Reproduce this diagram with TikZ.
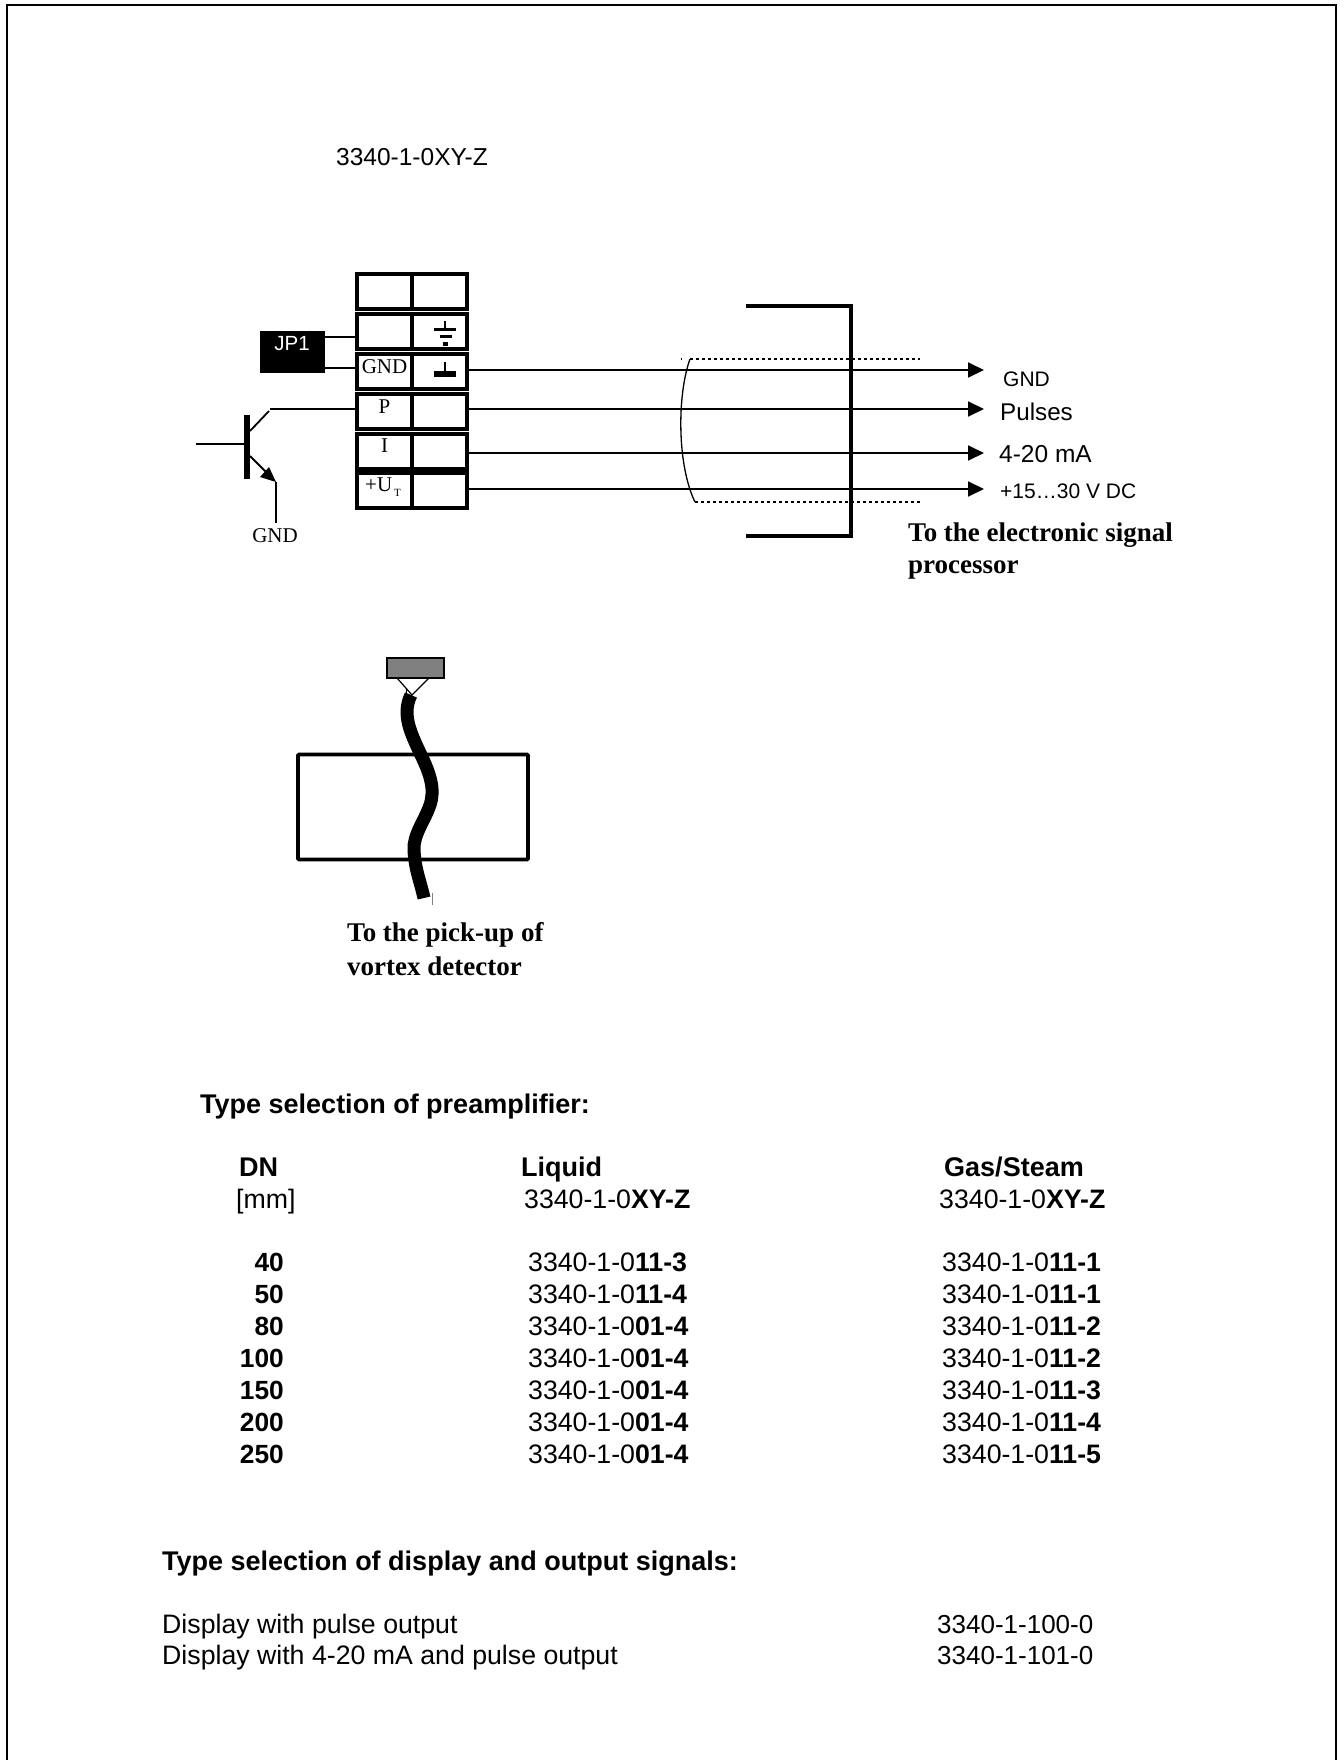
\documentclass[tikz,border=0pt]{standalone}
\usepackage{fontspec}
\setmainfont{Liberation Sans}
\newfontfamily\serifface{Liberation Serif}
\usetikzlibrary{arrows.meta}
\newcommand{\fs}[1]{\fontsize{#1}{#1}\selectfont}
\newcommand{\tb}[1]{\textbf{#1}}
\tikzset{
 x=1pt,y=-1pt,
 txt/.style={inner sep=0pt,anchor=west,text height=19.2pt,text depth=0pt,font=\fs{26.7}},
 head/.style={txt,font=\fs{27}\bfseries},
 num/.style={inner sep=0pt,anchor=east,text height=19.2pt,text depth=0pt,font=\fs{26.3}\bfseries},
 bold serif/.style={inner sep=0pt,anchor=west,font=\serifface\fs{27}\bfseries},
 cell/.style={draw,line width=4pt,inner sep=0pt,minimum width=55pt,minimum height=35pt},
 tlabel/.style={inner sep=0pt,font=\serifface\fs{21}},
 wire/.style={line width=1.8pt},
 signal/.style={wire,-{Triangle[length=16pt,width=15pt]}},
}
\begin{document}
\begin{tikzpicture}
\useasboundingbox (0,0) rectangle (1343,1760);
\draw[line width=2pt] (7,1760) -- (7,5) -- (1335.5,5) -- (1335.5,1760);
% title
\node[txt,font=\fs{24.5},text height=17.6pt] at (336,157) (title) {3340-1-0XY-Z};
% terminal block
\foreach \n/\y in {1/292,2/331.5,3/371.5,4/411,5/451,6/490.5}{
 \node[cell] (L\n) at (384.5,\y) {};
 \node[cell] (R\n) at (439.5,\y) {};
}
\node[tlabel] (tGND) at (384.5,367) {GND};
\node[tlabel] (tP) at (384.5,407) {P};
\node[tlabel] (tI) at (384.5,446) {I};
\node[tlabel] (tU) at (383,487) {+U\raisebox{-0.5ex}{\fs{11}\,T}};
% earth symbols
\draw[line width=2pt] (445,321) -- (445,330);
\draw[line width=3.4pt] (434,329.5) -- (456,329.5);
\draw[line width=3.4pt] (439.5,336.5) -- (451.5,336.5);
\draw[line width=3.8pt] (442.5,344) -- (447.5,344);
\draw[line width=2.4pt] (445,362) -- (445,372);
\draw[line width=5.5pt] (434,374) -- (456,374);
% JP1
\node[fill=black,inner sep=0pt,minimum width=65pt,minimum height=42pt] (jp) at (292.5,352) {};
\node[inner sep=0pt,text=white,font=\fs{20.5}] (jplabel) at (292,344) {JP1};
\draw[wire] (jp.east |- 0,337) -- (L2.west |- 0,337);
\draw[wire] (jp.east |- 0,368) -- (L3.west |- 0,368);
% transistor
\coordinate (base) at (196,444);
\coordinate (bar) at (247,447);
\coordinate (coll) at (270,409);
\coordinate (emit) at (276,482);
\coordinate (gndend) at (276,523);
\draw[line width=5.5pt] (247,415) -- (247,479);
\draw[wire] (base) -- (bar |- base);
\draw[wire] (250,431) -- (269,411);
\draw[wire] (coll) -- (L4.west |- coll);
\draw[wire] (250,456) -- (268,474);
\fill (emit) -- (260,477) -- (269,467) -- cycle;
\draw[wire] (emit) -- (gndend);
\node[tlabel] (gnd2) at (275,536) {GND};
% signals
\node[txt,font=\fs{21},text height=15pt] (sGND) at (1003,379) {GND};
\node[txt,font=\fs{24.2},text height=17.4pt] (sP) at (1000,412) {Pulses};
\node[txt,font=\fs{24.5},text height=17.6pt] (sI) at (999,454) {4-20 mA};
\node[txt,font=\fs{21},text height=15pt] (sU) at (1000,491) {+15…30 V DC};
\coordinate (tipG) at (984,370);
\coordinate (tipP) at (984,409);
\coordinate (tipI) at (984,453);
\coordinate (tipU) at (984,489);
\draw[signal] (R3.east |- tipG) -- (tipG);
\draw[signal] (R4.east |- tipP) -- (tipP);
\draw[signal] (R5.east |- tipI) -- (tipI);
\draw[signal] (R6.east |- tipU) -- (tipU);
% bracket
\draw[line width=4pt] (746,306) -- (851,306) -- (851,536) -- (746,536);
% shield
\draw[line width=1.6pt,dash pattern=on 3pt off 3pt] (690,359) -- (920,359);
\draw[line width=1.6pt,dash pattern=on 3pt off 3pt] (695,502) -- (920,502);
\draw[line width=1.3pt] (690,359) .. controls (677,395) and (677,465) .. (695,502);
\fill (681,358.3) rectangle (682,360);
\node[bold serif] (proc1) at (908,535) {To the electronic signal};
\node[bold serif] (proc2) at (908,570) {processor};
% pick-up
\node[draw,fill=gray,line width=1.6pt,inner sep=0pt,minimum width=57pt,minimum height=20pt] (sensor) at (415.5,668) {};
\coordinate (vee) at (412,695);
\draw[line width=1.2pt] (397,678) -- (vee) -- (429,678);
\draw[line width=.6pt] (406,689) -- (406,697);
\node[draw,line width=3.6pt,rounded corners=1pt,inner sep=0pt,minimum width=230pt,minimum height=105pt] (box) at (413,807) {};
\draw[line width=13pt] (411,695) .. controls (401,715) and (412,735) .. (420,753)
  .. controls (431,775) and (435,790) .. (430,805)
  .. controls (425,820) and (413,835) .. (414,850)
  .. controls (415,870) and (420,880) .. (424,898);
\draw[gray,line width=1pt] (432,893) -- (432,905);
\node[bold serif] (pk1) at (347,935) {To the pick-up of};
\node[bold serif] (pk2) at (347,966) {vortex detector};
% type table
\node[head] (h1) at (200,1104) {Type selection of preamplifier:};
\node[head] (dn) at (239,1167) {DN};
\node[txt] (mm) at (236,1199) {[mm]};
\node[head] (lq) at (521,1167) {Liquid};
\node[txt] (lqc) at (524,1199) {3340-1-0\tb{XY-Z}};
\node[head] (gs) at (944,1167) {Gas/Steam};
\node[txt] (gsc) at (939,1199) {3340-1-0\tb{XY-Z}};
\foreach \n/\y/\d/\a/\b in {a/1262/40/11-3/11-1,b/1294/50/11-4/11-1,c/1326/80/01-4/11-2,d/1358/100/01-4/11-2,e/1390/150/01-4/11-3,f/1422/200/01-4/11-4,g/1454/250/01-4/11-5}{
 \node[num] (n\n) at (284,\y) {\d};
 \node[txt] (l\n) at (528,\y) {3340-1-0\tb{\a}};
 \node[txt] (g\n) at (942,\y) {3340-1-0\tb{\b}};
}
\node[head] (h2) at (162,1561) {Type selection of display and output signals:};
\node[txt] (d1) at (162,1624) {Display with pulse output};
\node[txt] (d2) at (162,1655) {Display with 4-20 mA and pulse output};
\node[txt,font=\fs{26}] (c1) at (937,1624) {3340-1-100-0};
\node[txt,font=\fs{26}] (c2) at (937,1655) {3340-1-101-0};
\end{tikzpicture}
\end{document}
